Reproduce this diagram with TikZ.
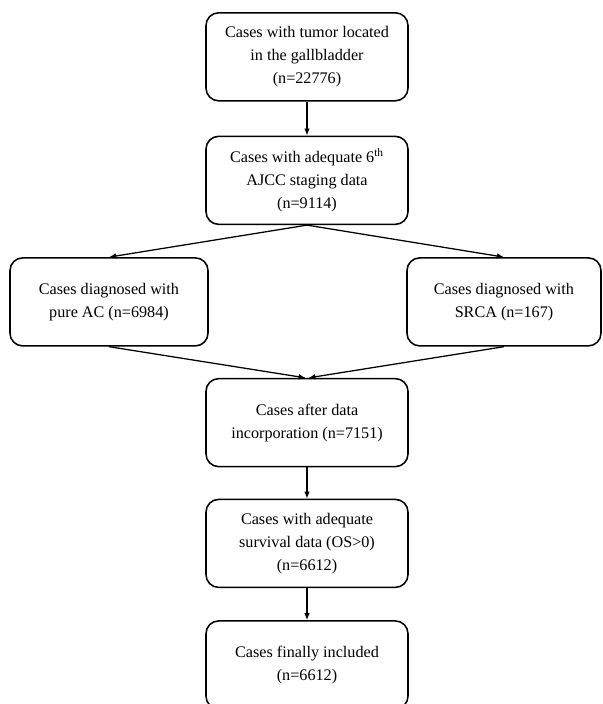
\documentclass[tikz,border=0pt]{standalone}
\usepackage{fontspec}
\setmainfont{Liberation Serif}
\usepackage{tikz}
\usetikzlibrary{positioning,arrows.meta}

\begin{document}
\begin{tikzpicture}[node distance=0.8cm and 1cm,
   box/.style={draw, line width=1.1pt, rounded corners=9pt, align=center,
      minimum width=5.05cm, minimum height=2.2cm,
      font=\fontsize{11.5}{16.5}\selectfont},
   arr/.style={line width=0.9pt, -{Latex[length=5pt,width=4pt]}}]
   \useasboundingbox (0,0) rectangle (15.075,-17.6);

   \node[box] (tumor) at (7.675,-1.42) {Cases with tumor located\\in the gallbladder\\(n=22776)};
   \node[box] (ajcc) [below=0.85cm of tumor] {Cases with adequate 6\textsuperscript{th}\\AJCC staging data\\(n=9114)};
   \node[box, minimum width=4.95cm] (ac) [below=0.8cm of ajcc, xshift=-4.95cm] {Cases diagnosed with\\pure AC (n=6984)};
   \node[box, minimum width=4.85cm] (srca) [below=0.8cm of ajcc, xshift=4.925cm] {Cases diagnosed with\\SRCA (n=167)};
   \coordinate (m) at (ajcc |- ac.south);
   \node[box] (merge) [below=0.78cm of m] {Cases after data\\incorporation (n=7151)};
   \node[box] (os) [below=0.78cm of merge] {Cases with adequate\\survival data (OS>0)\\(n=6612)};
   \node[box] (final) [below=0.8cm of os] {Cases finally included\\(n=6612)};

   \draw[arr] (tumor) -- (ajcc);
   \draw[arr] (ajcc.south) -- (ac.north);
   \draw[arr] (ajcc.south) -- (srca.north);
   \draw[arr] (ac.south) -- ([xshift=-1pt]merge.north);
   \draw[arr] (srca.south) -- ([xshift=1pt]merge.north);
   \draw[arr] (merge) -- (os);
   \draw[arr] (os) -- (final);
\end{tikzpicture}
\end{document}
